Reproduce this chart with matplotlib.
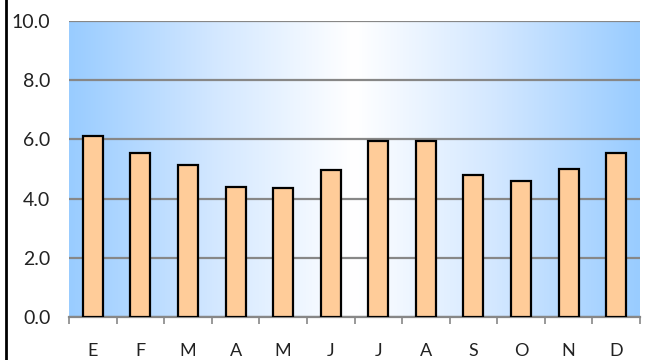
import numpy as np
import matplotlib
matplotlib.use('Agg')
from matplotlib import pyplot as plt
from matplotlib.colors import LinearSegmentedColormap
from matplotlib.lines import Line2D

# Monthly values
months = ['E', 'F', 'M', 'A', 'M', 'J', 'J', 'A', 'S', 'O', 'N', 'D']
values = [6.1, 5.55, 5.15, 4.4, 4.35, 4.95, 5.95, 5.95, 4.8, 4.6, 5.0, 5.55]
y_ticks = [0, 2, 4, 6, 8, 10]

plt.rcParams['font.family'] = ['Lato', 'DejaVu Sans']

fig = plt.figure(figsize=(6.61, 3.6), dpi=100)
ax = fig.add_axes([69 / 661, 43 / 360, 571 / 661, 296 / 360])

# Horizontal gradient background: blue at the edges, white in the middle
grad = np.abs(np.linspace(-1, 1, 256)).reshape(1, -1)
cmap = LinearSegmentedColormap.from_list('bg', ['#ffffff', '#d2e7ff', '#99ccff'])
ax.imshow(grad, cmap=cmap, aspect='auto', extent=(-0.5, 11.5, 0, 10),
          zorder=0, interpolation='bicubic')

x = np.arange(len(months))
ax.bar(x, values, width=0.42, color='#ffcc99', edgecolor='black',
       linewidth=1.6, zorder=3)

ax.set_xlim(-0.5, 11.5)
ax.set_ylim(0, 10)
ax.set_yticks(y_ticks)
ax.set_yticklabels(['%.1f' % v for v in y_ticks], fontsize=14, color='#222222')
ax.yaxis.grid(True, color='#878787', linewidth=1.6, zorder=1)
ax.set_axisbelow(True)
ax.tick_params(axis='y', length=0, pad=13.5)

# Category labels in the middle, tick marks on the boundaries
ax.set_xticks(x)
ax.set_xticklabels(months, fontsize=13, color='#222222')
ax.tick_params(axis='x', which='major', length=0, pad=19)
ax.set_xticks(np.arange(-0.5, 12, 1), minor=True)
ax.tick_params(axis='x', which='minor', length=5, width=1.2, color='#878787')

for side in ['top', 'right', 'left']:
    ax.spines[side].set_visible(False)
ax.spines['bottom'].set_color('#878787')
ax.spines['bottom'].set_linewidth(1.6)

# Black line on the left edge of the picture
fig.add_artist(Line2D([6 / 661, 6 / 661], [0, 1], color='black', linewidth=2,
                      transform=fig.transFigure))

fig.savefig('out.png', dpi=100)
